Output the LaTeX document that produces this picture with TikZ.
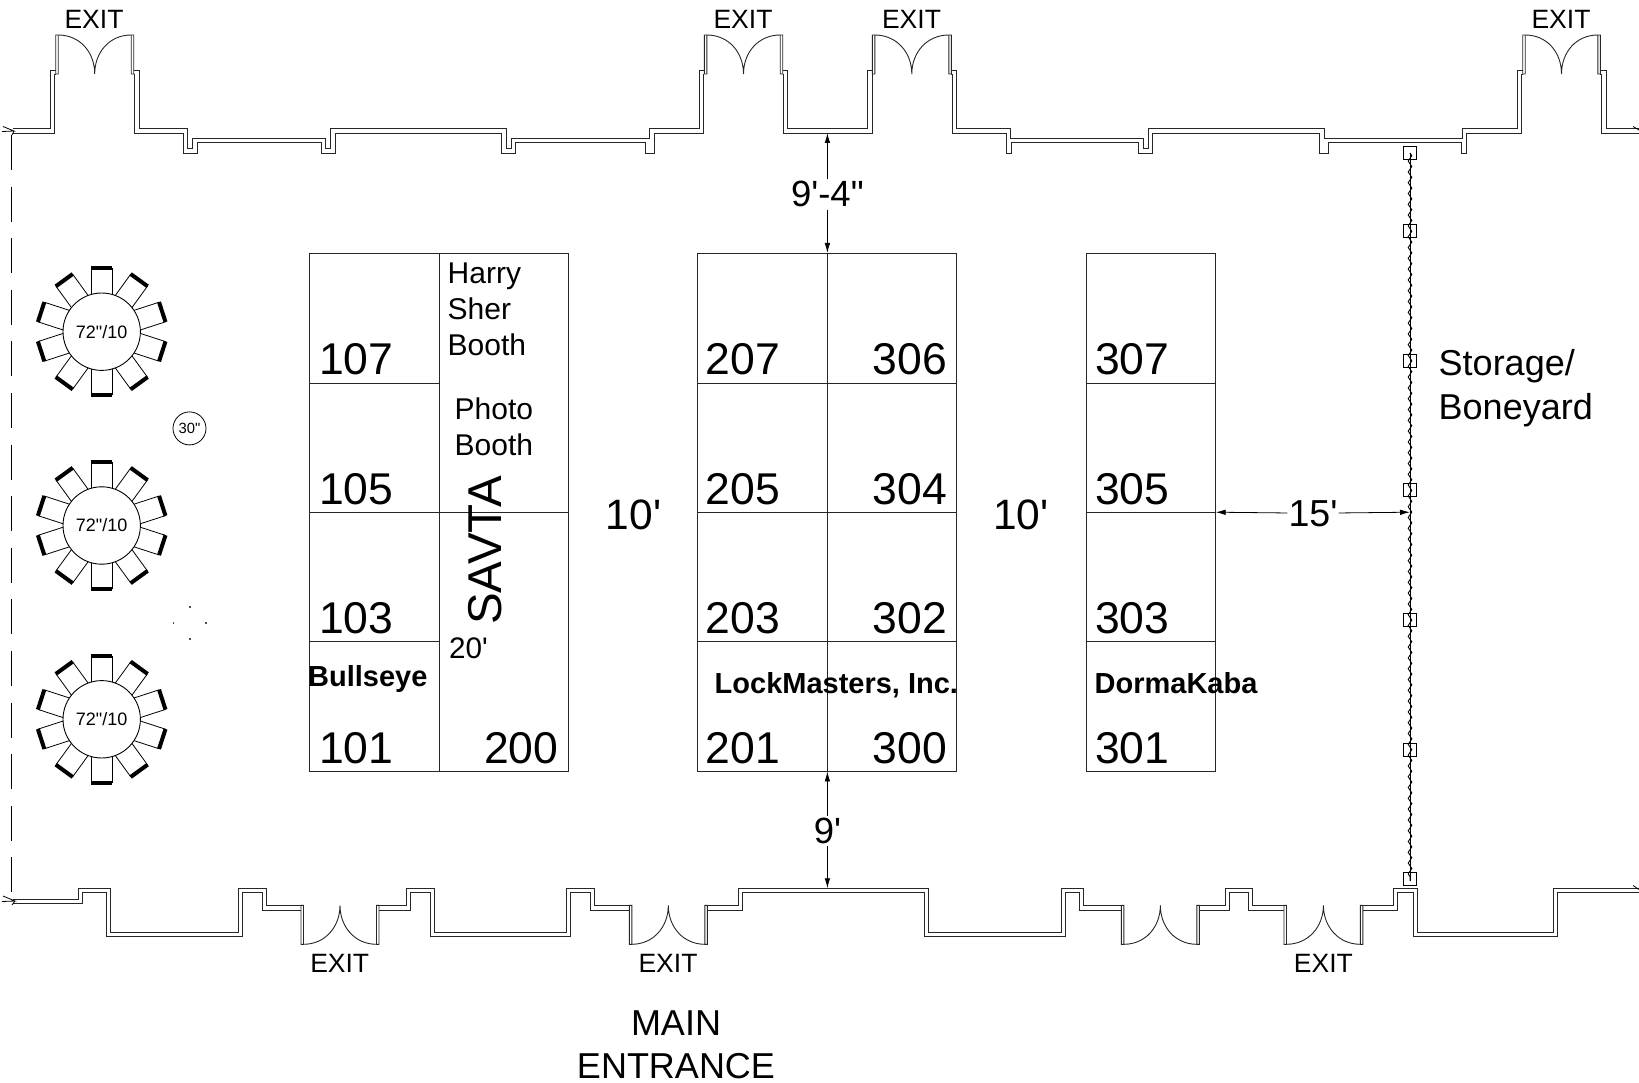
\documentclass[tikz,border=0pt]{standalone}
\usepackage{fontspec}
\setmainfont{Liberation Sans}[Ligatures=TeXOff]
\usetikzlibrary{arrows.meta,decorations.pathmorphing}
\tikzset{
  wall/.style={line width=.9pt,black!85},
  boothline/.style={line width=.9pt,black!85},
  numlabel/.style={anchor=base west,inner sep=0pt,font=\fontsize{44.5}{44.5}\selectfont},
  exitlabel/.style={anchor=base,inner sep=0pt,font=\fontsize{26.5}{26.5}\selectfont},
  textlabel/.style={anchor=base west,inner sep=0pt,align=left,font=\fontsize{30}{36}\selectfont},
  boldlabel/.style={anchor=base west,inner sep=0pt,font=\fontsize{29}{29}\selectfont\bfseries},
  dimlabel/.style={anchor=base,inner sep=0pt,font=\fontsize{36.5}{36.5}\selectfont},
  dimline/.style={line width=.8pt,-{Latex[length=10pt,width=5.5pt]}},
  tablenode/.style={circle,draw,line width=.9pt,minimum size=77.4pt,inner sep=0pt,font=\fontsize{18}{18}\selectfont},
  postbase/.style={draw,line width=.9pt,minimum size=13pt,inner sep=0pt}
}
\begin{document}
\begin{tikzpicture}[x=1pt,y=-1pt]
\useasboundingbox (0,0) rectangle (1639,1083);
% top wall
\draw[wall] (13,128.5) -- (50.7,128.5) -- (50.7,70) -- (55.7,70)
  (133.7,70) -- (139,70) -- (139,128.5) -- (187.7,128.5) -- (187.7,148.5) -- (192.7,148.5) -- (192.7,138.3) -- (325.7,138.3) -- (325.7,148.5) -- (330.7,148.5) -- (330.7,128.5) -- (506.3,128.5) -- (506.3,148.5) -- (511.7,148.5) -- (511.7,138.3) -- (649.3,138.3) -- (649.3,128.5) -- (699.3,128.5) -- (699.3,70) -- (704.3,70)
  (782.7,70) -- (787.7,70) -- (787.7,128.5) -- (867.7,128.5) -- (867.7,70) -- (872.3,70)
  (951.3,70) -- (956.3,70) -- (956.3,128.5) -- (1010.7,128.5) -- (1010.7,138.3) -- (1143.3,138.3) -- (1143.3,148.5) -- (1148.3,148.5) -- (1148.3,128.5) -- (1324,128.5) -- (1324,138.3) -- (1462.3,138.3) -- (1462.3,128.5) -- (1517.3,128.5) -- (1517.3,70) -- (1522.7,70)
  (1600.3,70) -- (1606,70) -- (1606,128.5) -- (1639,128.5);
\draw[wall] (13,133) -- (54.3,133) -- (54.3,74) -- (55.7,74)
  (133.7,74) -- (134.7,74) -- (134.7,133) -- (183.3,133) -- (183.3,153) -- (197.7,153) -- (197.7,142.7) -- (321.5,142.7) -- (321.5,153) -- (335.3,153) -- (335.3,133) -- (501.7,133) -- (501.7,153) -- (515.7,153) -- (515.7,142.7) -- (645,142.7) -- (645,153) -- (654.3,153) -- (654.3,133) -- (703.3,133) -- (703.3,74) -- (704.3,74)
  (782.7,74) -- (783.7,74) -- (783.7,133) -- (872,133) -- (872,74) -- (872.3,74)
  (951.3,74) -- (952,74) -- (952,133) -- (1006.5,133) -- (1006.5,153) -- (1011.7,153) -- (1011.7,142.7) -- (1138.7,142.7) -- (1138.7,153) -- (1152.7,153) -- (1152.7,133) -- (1319.3,133) -- (1319.3,153) -- (1328.3,153) -- (1328.3,142.7) -- (1461.7,142.7) -- (1461.7,153) -- (1466.7,153) -- (1466.7,133) -- (1521.5,133) -- (1521.5,74) -- (1522.7,74)
  (1600.3,74) -- (1601.7,74) -- (1601.7,133) -- (1639,133);
% bottom wall
\draw[wall] (13,899) -- (78.3,899) -- (78.3,888.3) -- (110.7,888.3) -- (110.7,932.3) -- (238.7,932.3) -- (238.7,888.3) -- (266.7,888.3) -- (266.7,905.3) -- (301,905.3)
  (379,905.3) -- (406.7,905.3) -- (406.7,888.3) -- (434.3,888.3) -- (434.3,932.3) -- (566.7,932.3) -- (566.7,888.3) -- (594,888.3) -- (594,905.3) -- (629.3,905.3)
  (707.3,905.3) -- (738.3,905.3) -- (738.3,888.3) -- (928.3,888.3) -- (928.3,932.3) -- (1061.4,932.3) -- (1061.4,888.3) -- (1083.9,888.3) -- (1083.9,905.3) -- (1121.4,905.3)
  (1199.3,905.3) -- (1225.6,905.3) -- (1225.6,888.3) -- (1252.8,888.3) -- (1252.8,905.3) -- (1284,905.3)
  (1362.8,905.3) -- (1393.3,905.3) -- (1393.3,888.3) -- (1417.4,888.3) -- (1417.4,932.3) -- (1553.4,932.3) -- (1553.4,888.3) -- (1639,888.3);
\draw[wall] (13,903.5) -- (82.3,903.5) -- (82.3,892.7) -- (106.7,892.7) -- (106.7,936.7) -- (242.7,936.7) -- (242.7,892.7) -- (262,892.7) -- (262,910) -- (301,910)
  (379,910) -- (410.7,910) -- (410.7,892.7) -- (430,892.7) -- (430,936.7) -- (570.7,936.7) -- (570.7,892.7) -- (590,892.7) -- (590,910) -- (629.3,910)
  (707.3,910) -- (742.7,910) -- (742.7,892.7) -- (924.3,892.7) -- (924.3,936.7) -- (1065.6,936.7) -- (1065.6,892.7) -- (1079.3,892.7) -- (1079.3,910) -- (1121.4,910)
  (1199.3,910) -- (1229.8,910) -- (1229.8,892.7) -- (1248.6,892.7) -- (1248.6,910) -- (1284,910)
  (1362.8,910) -- (1397.9,910) -- (1397.9,892.7) -- (1413.2,892.7) -- (1413.2,936.7) -- (1557.6,936.7) -- (1557.6,892.7) -- (1639,892.7);
% doors
\foreach \xl/\xr in {55.7/133.7,704.3/782.7,872.3/951.3,1522.7/1600.3}
  \draw[wall] (\xl,35) rectangle (\xl+2.5,74) (\xr-2.5,35) rectangle (\xr,74)
    (\xl+2.5,35) .. controls (\xl+24,35) and ({(\xl+\xr)/2},52) .. ({(\xl+\xr)/2},74)
    (\xr-2.5,35) .. controls (\xr-24,35) and ({(\xl+\xr)/2},52) .. ({(\xl+\xr)/2},74);
\foreach \xl/\xr in {301/379,629.3/707.3,1121.4/1199.3,1284/1362.8}
  \draw[wall] (\xl,905.3) rectangle (\xl+2.5,944.3) (\xr-2.5,905.3) rectangle (\xr,944.3)
    (\xl+2.5,944.3) .. controls (\xl+24,944.3) and ({(\xl+\xr)/2},927) .. ({(\xl+\xr)/2},905.3)
    (\xr-2.5,944.3) .. controls (\xr-24,944.3) and ({(\xl+\xr)/2},927) .. ({(\xl+\xr)/2},905.3);
% left side and wall breaks
\draw[line width=.8pt,dash pattern=on 35pt off 16.6pt] (11.3,135) -- (11.3,899);
\draw[line width=.8pt] (3,126.5) -- (14,131) -- (2,131.5) (12,135) -- (14,131)
  (3,896) -- (15,901) -- (2,901.5) (12,905) -- (15,901)
  (1633,126.5) -- (1639,130) (1633,885.5) -- (1639,889.5);
% booths
\foreach \xa/\xb/\ya/\yb in {309.4/439/253/383.6,309.4/439/383.6/512.2,309.4/439/512.2/641.8,309.4/439/641.8/771.4,
  439/568.6/253/512.2,439/568.6/512.2/771.4,
  697.7/827.4/253/383.6,697.7/827.4/383.6/512.2,697.7/827.4/512.2/641.8,697.7/827.4/641.8/771.4,
  827.4/956.5/253/383.6,827.4/956.5/383.6/512.2,827.4/956.5/512.2/641.8,827.4/956.5/641.8/771.4,
  1086/1215.7/253/383.6,1086/1215.7/383.6/512.2,1086/1215.7/512.2/641.8,1086/1215.7/641.8/771.4}
  \draw[boothline] (\xa,\ya) rectangle (\xb,\yb);
\foreach \num/\xpos/\ypos in {107/319/374.3,105/319/504,103/319/633.5,101/319/763,200/484/763,
  207/705.5/374.3,205/705.5/504,203/705.5/633.5,201/705.5/763,
  306/872.7/374.3,304/872.7/504,302/872.7/633.5,300/872.7/763,
  307/1095/374.3,305/1095/504,303/1095/633.5,301/1095/763}
  \node[numlabel] (n\num) at (\xpos,\ypos) {\num};
\node[textlabel] (harry) at (447.5,355.4) {Harry\\Sher\\Booth};
\node[textlabel] (photo) at (454.5,455.7) {Photo\\Booth};
\node[anchor=base west,inner sep=0pt,rotate=90,font=\fontsize{47.5}{47.5}\selectfont] (savta) at (501.7,625) {SAVTA};
\node[anchor=base west,inner sep=0pt,font=\fontsize{29.7}{29.7}\selectfont] (size20) at (449,658.5) {20'};
\node[boldlabel] (bullseye) at (308,686) {Bullseye};
\node[boldlabel] (lockmasters) at (714.5,693) {LockMasters, Inc.};
\node[boldlabel] (dormakaba) at (1094.5,693) {DormaKaba};
\node[anchor=base,inner sep=0pt,font=\fontsize{42.5}{42.5}\selectfont] (aisle1) at (633.5,529) {10'};
\node[anchor=base,inner sep=0pt,font=\fontsize{42.5}{42.5}\selectfont] (aisle2) at (1021,529) {10'};
% tables
\foreach \i/\cy in {1/331.7,2/525.5,3/719.3} {
  \foreach \a in {90,54,18,-18,-54,-90,-126,-162,162,126} {
    \begin{scope}[shift={(101.7,\cy)},rotate=\a]
    \draw[line width=.8pt] (37.3,-10.3) -- (63.7,-10.3) (37.3,10.3) -- (63.7,10.3);
    \draw[line width=4pt] (63.7,-10.5) -- (63.7,10.5);
    \end{scope}
  }
  \node[tablenode] (table\i) at (101.7,\cy) {72"/10};
}
\node[circle,draw,line width=.8pt,minimum size=33pt,inner sep=0pt,font=\fontsize{14.8}{14.8}\selectfont] (table30) at (189.5,428.4) {30"};
\foreach \x/\y in {189.7/606.7,173.3/623,205.7/623,189.7/639}
  \fill[black!70] (\x-.8,\y-.8) rectangle (\x+.8,\y+.8);
% curtain
\coordinate (curtaintop) at (1410,153);
\coordinate (curtainend) at (1410,881);
\draw[line width=.7pt] (curtaintop) -- (curtainend);
\draw[line width=.9pt,decorate,decoration={zigzag,segment length=10.8pt,amplitude=1.8pt}] (curtaintop) -- (curtainend);
\foreach \y in {153.3,231,360.6,490,620,749.5,879}
  \node[postbase,rectangle] (post\y) at (1410,\y) {};
\node[textlabel,font=\fontsize{36}{43.7}\selectfont] (storage) at (1438.5,419) {Storage/\\Boneyard};
% dimensions
\coordinate (walltop) at (827.4,133);
\coordinate (boothtop) at (827.4,253);
\coordinate (boothbot) at (827.4,771.4);
\coordinate (wallbot) at (827.4,888.3);
\coordinate (booth305) at (1215.7,512.2);
\coordinate (curtain15) at (1410,512.2);
\node[dimlabel,inner sep=2pt] (dimtop) at (827.4,207) {9'-4"};
\node[dimlabel,inner sep=2pt] (dimbot) at (827.4,843.6) {9'};
\node[anchor=base,inner sep=1pt,font=\fontsize{37.6}{37.6}\selectfont] (dim15) at (1313,526) {15'};
\foreach \from/\to in {dimtop/walltop,dimtop/boothtop,dimbot/boothbot,dimbot/wallbot,dim15/booth305,dim15/curtain15}
\draw[dimline] (\from) -- (\to);
% exits
\foreach \x/\y in {94/28.2,743/28.2,911.5/28.2,1561/28.2,339.7/972,668/972,1323.4/972}
  \node[exitlabel] (exit\x) at (\x,\y) {EXIT};
\node[anchor=base,inner sep=0pt,align=center,font=\fontsize{36}{43.7}\selectfont] (entrance) at (676,1078.7) {MAIN\\ENTRANCE};
\end{tikzpicture}
\end{document}
